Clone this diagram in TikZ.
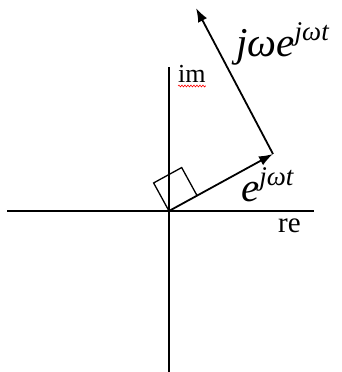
\documentclass[tikz,border=0pt]{standalone}
\usepackage{fontspec}
\setmainfont{Liberation Serif}
\usetikzlibrary{arrows.meta, calc, decorations.pathmorphing}
\newcommand{\suplblfont}{\fontsize{27}{27}\selectfont}

\begin{document}
\begin{tikzpicture}[
    x=1pt, y=1pt,
    axis/.style={line width=2pt},
    phasor/.style={line width=1.8pt, -{Latex[length=14pt, width=10pt]}},
    rightangle/.style={line width=1.3pt},
    axlbl/.style={inner sep=0pt, anchor=base west, font=\fontsize{26}{26}\selectfont},
    biglbl/.style={inner sep=0pt, anchor=base west, font=\fontsize{41}{41}\selectfont\itshape},
    spell/.style={red, line width=0.6pt, decorate, decoration={snake, amplitude=0.9pt, segment length=3pt}}
]
\useasboundingbox (0,0) rectangle (341,372);

% Origin and phasor tips
\coordinate (O) at (169,161);
\coordinate (P) at (273,218);
\coordinate (Q) at (196,364);

% Axes
\coordinate (reL) at (7,161);
\coordinate (reR) at (314,161);
\coordinate (imB) at (169,0);
\coordinate (imT) at (169,305);
\draw[axis] (reL) -- (reR);
\draw[axis] (imB) -- (imT);

% Right angle mark
\coordinate (s1) at ($(O)!32pt!(P)$);
\coordinate (s3) at ($(O)!32pt!90:(P)$);
\coordinate (s2) at ($(s1)+(s3)-(O)$);
\draw[rightangle] (s1) -- (s2) -- (s3) -- (O);

% Phasors
\draw[phasor] (O) -- (P);
\draw[phasor] (P) -- (Q);

% Labels
\node[axlbl] (imlbl) at (178,289) {im};
\draw[spell] ($(imlbl.base west)+(0,-3)$) -- ($(imlbl.base east)+(0,-3)$);
\node[axlbl, font=\fontsize{29}{29}\selectfont] (relbl) at (278,139) {re};
\node[biglbl] (elbl) at (241,170) {e\raisebox{16pt}{\suplblfont jωt}};
\node[biglbl] (jwlbl) at (236,315) {jωe\raisebox{16pt}{\suplblfont jωt}};
\end{tikzpicture}
\end{document}
